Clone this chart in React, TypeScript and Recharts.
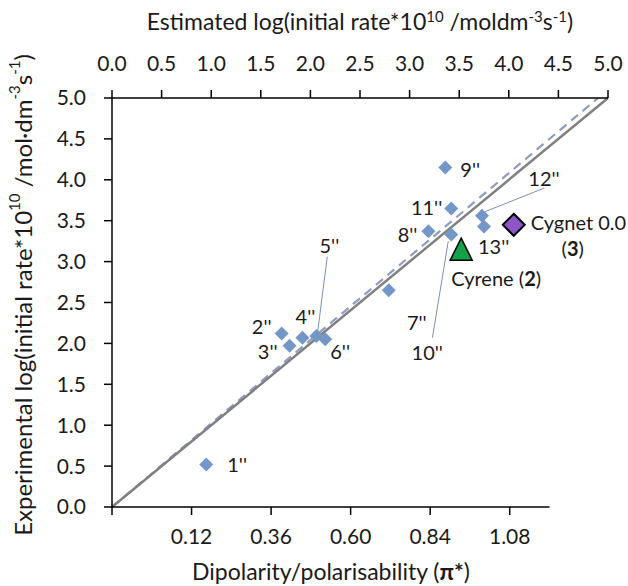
import React from 'react';
import { ScatterChart, Scatter, XAxis, YAxis, ReferenceLine, Label } from 'recharts';

// solvent points: estimated (top axis) vs experimental log(rate)
const solventNames = ["1''", "2''", "3''", "4''", "5''", "6''", "7''", "8''", "9''", "10''", "11''", "12''", "13''"];
const estimated = [0.95, 1.71, 1.79, 1.92, 2.06, 2.15, 2.79, 3.19, 3.36, 3.42, 3.42, 3.73, 3.75];
const experimental = [0.52, 2.12, 1.97, 2.07, 2.09, 2.05, 2.65, 3.37, 4.15, 3.33, 3.65, 3.56, 3.43];

const cyreneEst = [3.52];
const cyreneExp = [3.14];
const cygnetEst = [4.05];
const cygnetExp = [3.45];

const estTicks = [0, 0.5, 1, 1.5, 2, 2.5, 3, 3.5, 4, 4.5, 5];
const expTicks = [0, 0.5, 1, 1.5, 2, 2.5, 3, 3.5, 4, 4.5, 5];
const piTicks = [-0.12, 0.12, 0.36, 0.6, 0.84, 1.08];
const piDomain = [-0.12, 1.3765];
const piRange = [-0.12, 1.2]; // extent of the bottom (π*) axis line

// y = x and the fitted (dashed) line
const unityLine = [{ x: 0, y: 0 }, { x: 5, y: 5 }];
const fitLine = [{ x: 0, y: 0 }, { x: 4.9, y: 5 }];

// leader lines from labels to points
const leaders = [
  [{ x: 2.17, y: 3.06 }, { x: 2.07, y: 2.11 }],
  [{ x: 3.39, y: 3.25 }, { x: 3.23, y: 2.07 }],
  [{ x: 3.76, y: 3.61 }, { x: 4.36, y: 3.9 }],
];

// label placement relative to each marker
const labelPos: Record<string, { dx: number; dy: number; anchor: string }> = {
  "1''": { dx: 21, dy: 0, anchor: 'start' },
  "2''": { dx: -10, dy: -8, anchor: 'end' },
  "3''": { dx: -12, dy: 5, anchor: 'end' },
  "4''": { dx: 3, dy: -22, anchor: 'middle' },
  "5''": { dx: 13, dy: -91, anchor: 'middle' },
  "6''": { dx: 5, dy: 12, anchor: 'start' },
  "7''": { dx: 28, dy: 32, anchor: 'middle' },
  "8''": { dx: -11, dy: 3, anchor: 'end' },
  "9''": { dx: 15, dy: 1, anchor: 'start' },
  "10''": { dx: -24, dy: 117, anchor: 'middle' },
  "11''": { dx: -9, dy: -1, anchor: 'end' },
  "12''": { dx: 62, dy: -38, anchor: 'middle' },
  "13''": { dx: -6, dy: 20, anchor: 'start' },
};

const FONT = 'Lato, "Open Sans", sans-serif';
const BLUE = '#7497c8';
const TXT = '#1a1a1a';
const W = 628;
const H = 586;
const MARGIN = { top: 0, right: 20, bottom: 0, left: 0 };
const Y_W = 112;

const solventData = solventNames.map((name, i) => ({ name, est: estimated[i], exp: experimental[i] }));
const cyreneData = cyreneEst.map((v, i) => ({ name: 'Cyrene', est: v, exp: cyreneExp[i] }));
const cygnetData = cygnetEst.map((v, i) => ({ name: 'Cygnet', est: v, exp: cygnetExp[i] }));
const piAxisData = piRange.map((v) => ({ pi: v, exp: 0 }));

// the π* axis line stops at piRange[1], not at the plot edge
const plotW = W - Y_W - MARGIN.left - MARGIN.right;
const piLineLen = ((piRange[1] - piDomain[0]) / (piDomain[1] - piDomain[0])) * plotW;

const SolventShape = (props: any) => {
  const { cx, cy, payload } = props;
  const r = 7;
  const p = labelPos[payload.name];
  return (
    <g>
      <polygon points={`${cx},${cy - r} ${cx + r},${cy} ${cx},${cy + r} ${cx - r},${cy}`} fill={BLUE} />
      <text x={cx + p.dx} y={cy + p.dy} textAnchor={p.anchor as any} dominantBaseline="central"
        fontFamily={FONT} fontSize={20} fill={TXT}>{payload.name}</text>
    </g>
  );
};

const CyreneShape = (props: any) => {
  const { cx, cy } = props;
  return (
    <g>
      <polygon points={`${cx},${cy - 12} ${cx + 11},${cy + 10} ${cx - 11},${cy + 10}`} fill="#14a14a" stroke="#000" strokeWidth={1.5} />
      <text x={cx - 10} y={cy + 28} dominantBaseline="central" fontFamily={FONT} fontSize={20} fill={TXT}>
        Cyrene (<tspan fontWeight="bold">2</tspan>)
      </text>
    </g>
  );
};

const CygnetShape = (props: any) => {
  const { cx, cy } = props;
  const r = 11;
  return (
    <g>
      <polygon points={`${cx},${cy - r} ${cx + r},${cy} ${cx},${cy + r} ${cx - r},${cy}`} fill="#8d55c6" stroke="#000" strokeWidth={2} />
      <text x={cx + 17} y={cy - 3} dominantBaseline="central" fontFamily={FONT} fontSize={20} fill={TXT}>Cygnet 0.0</text>
      <text x={cx + 59} y={cy + 23} textAnchor="middle" dominantBaseline="central" fontFamily={FONT} fontSize={20} fill={TXT}>
        (<tspan fontWeight="bold">3</tspan>)
      </text>
    </g>
  );
};

const tickStyle = { fontSize: 21, fill: TXT, fontFamily: FONT };

export default function App() {
  return (
    <div style={{ width: W, height: H }}>
      <style>{'body{margin:0}'}</style>
      <ScatterChart width={W} height={H} margin={MARGIN}>
        <XAxis
          xAxisId="est"
          orientation="top"
          type="number"
          dataKey="est"
          domain={[0, 5]}
          ticks={estTicks}
          interval={0}
          height={98}
          tickFormatter={(v: number) => v.toFixed(1)}
          tick={tickStyle}
          tickSize={8}
          tickMargin={19}
          axisLine={{ stroke: '#000', strokeWidth: 1.5 }}
          tickLine={{ stroke: '#000', strokeWidth: 1.5 }}
        >
          <Label
            content={(p: any) => {
              const vb = p.viewBox;
              return (
                <text x={vb.x + vb.width / 2} y={30} textAnchor="middle" fontFamily={FONT} fontSize={23} fill={TXT}>
                  Estimated log(initial rate*10<tspan dy={-8} fontSize={15}>10</tspan>
                  <tspan dy={8}> /moldm</tspan><tspan dy={-8} fontSize={15}>-3</tspan>
                  <tspan dy={8}>s</tspan><tspan dy={-8} fontSize={15}>-1</tspan><tspan dy={8}>)</tspan>
                </text>
              );
            }}
          />
        </XAxis>
        <XAxis
          xAxisId="pi"
          orientation="bottom"
          type="number"
          dataKey="pi"
          domain={piDomain}
          ticks={piTicks}
          interval={0}
          height={79}
          tickFormatter={(v: number) => (v < 0 ? '' : v.toFixed(2))}
          tick={tickStyle}
          tickSize={8}
          tickMargin={14}
          axisLine={{ stroke: '#000', strokeWidth: 1.5, strokeDasharray: `${piLineLen} 1000` }}
          tickLine={{ stroke: '#000', strokeWidth: 1.5 }}
        >
          <Label
            content={() => (
              <text x={331} y={580} textAnchor="middle" fontFamily={FONT} fontSize={23} fill={TXT}>
                Dipolarity/polarisability (<tspan fontWeight="bold">π*</tspan>)
              </text>
            )}
          />
        </XAxis>
        <YAxis
          yAxisId="exp"
          type="number"
          dataKey="exp"
          domain={[0, 5]}
          ticks={expTicks}
          interval={0}
          width={Y_W}
          tickFormatter={(v: number) => v.toFixed(1)}
          tick={tickStyle}
          tickSize={8}
          tickMargin={18}
          axisLine={{ stroke: '#000', strokeWidth: 1.5 }}
          tickLine={{ stroke: '#000', strokeWidth: 1.5 }}
        >
          <Label
            content={() => (
              <text x={22} y={295} transform="rotate(-90 22 295)" textAnchor="middle" dominantBaseline="central"
                fontFamily={FONT} fontSize={24} fill={TXT}>
                Experimental log(initial rate*10<tspan dy={-8} fontSize={15}>10</tspan>
                <tspan dy={8}> /mol·dm</tspan><tspan dy={-8} fontSize={15}>-3</tspan>
                <tspan dy={8}>s</tspan><tspan dy={-8} fontSize={15}>-1</tspan><tspan dy={8}>)</tspan>
              </text>
            )}
          />
        </YAxis>

        {/* ties the π* axis to its extent so the axis renders */}
        <Scatter xAxisId="pi" yAxisId="exp" data={piAxisData} shape={() => null} isAnimationActive={false} />

        <Scatter xAxisId="est" yAxisId="exp" data={solventData} shape={SolventShape} isAnimationActive={false} />

        {leaders.map((seg, i) => (
          <ReferenceLine key={i} xAxisId="est" yAxisId="exp" segment={seg} stroke="#7d8fb4" strokeWidth={1} />
        ))}
        <ReferenceLine xAxisId="est" yAxisId="exp" segment={fitLine} stroke="#8d9cc0" strokeWidth={2.2} strokeDasharray="9 6" />
        <ReferenceLine xAxisId="est" yAxisId="exp" segment={unityLine} stroke="#808080" strokeWidth={2.5} />

        <Scatter xAxisId="est" yAxisId="exp" data={cyreneData} shape={CyreneShape} isAnimationActive={false} />
        <Scatter xAxisId="est" yAxisId="exp" data={cygnetData} shape={CygnetShape} isAnimationActive={false} />
      </ScatterChart>
    </div>
  );
}
